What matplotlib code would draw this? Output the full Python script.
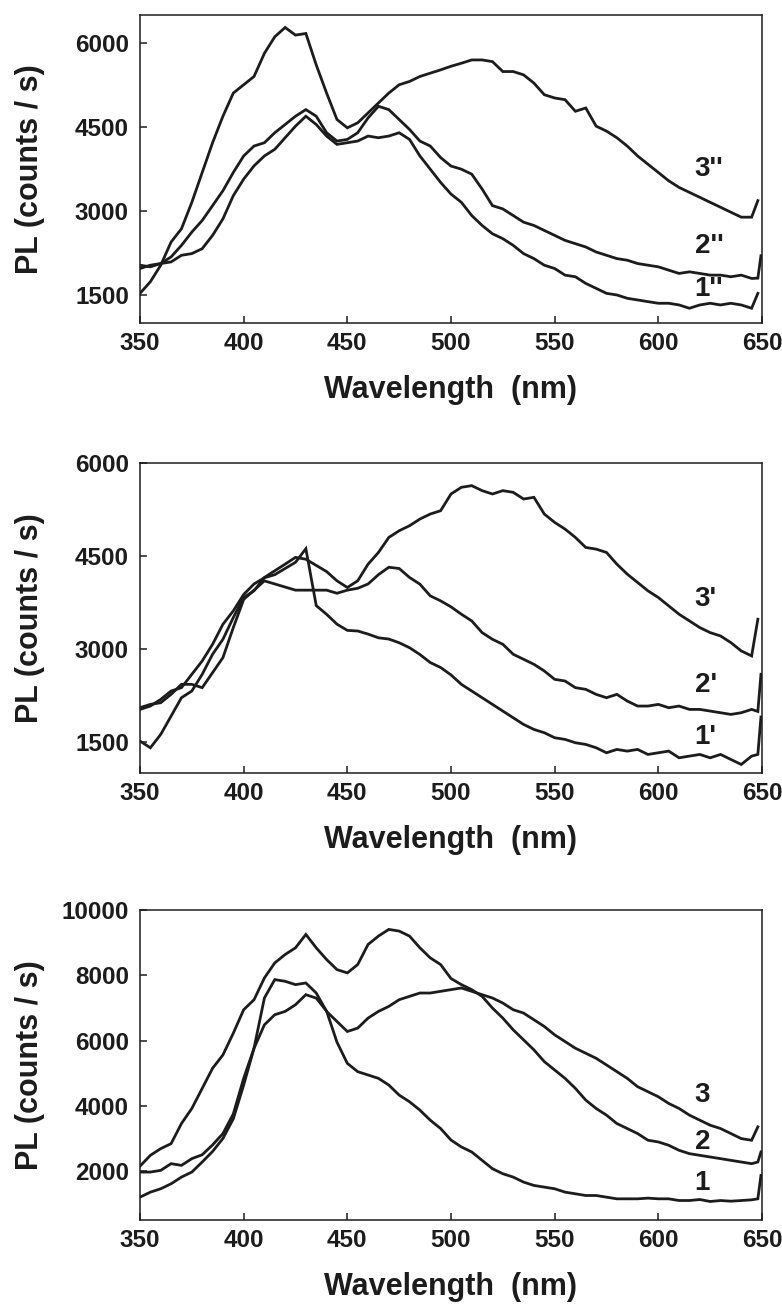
import matplotlib
matplotlib.use("Agg")
import matplotlib.pyplot as plt

plt.rcParams['font.family'] = ['Liberation Sans', 'DejaVu Sans']
plt.rcParams['font.weight'] = 'bold'

# ---------------- data ----------------
wavelength = list(range(350, 650, 5))   # 350 ... 645 nm sampling grid

# Panel 1 (top): curves 1'', 2'', 3''
p1_curve3 = [1529, 1736, 2031, 2445, 2681, 3153, 3685, 4216, 4689, 5102,
             5250, 5398, 5811, 6106, 6272, 6136, 6165, 5604, 5102, 4630,
             4482, 4571, 4748, 4925, 5102, 5250, 5309, 5398, 5457, 5516,
             5580,
             5634, 5693, 5693, 5663, 5486, 5486, 5427, 5280, 5073, 5014,
             4984, 4777, 4836, 4512, 4423, 4305, 4157, 3980, 3832, 3685,
             3537, 3419, 3330, 3242, 3153, 3065, 2976, 2888, 2888]
p1_curve3_tail = ([648], [3183])
p1_curve2 = [2031, 2002, 2061, 2179, 2385, 2622, 2829, 3094, 3360, 3685,
             3980, 4157, 4216, 4394, 4541, 4689, 4807, 4689, 4394, 4246,
             4275, 4394, 4659, 4866, 4807, 4630, 4453, 4246, 4157, 3951,
             3800,
             3744, 3655, 3390, 3094, 3035, 2917, 2799, 2740, 2651, 2563,
             2474, 2415, 2356, 2267, 2208, 2149, 2120, 2061, 2031, 2002,
             1943, 1884, 1913, 1884, 1854, 1854, 1825, 1854, 1795]
p1_curve2_tail = ([648, 649.5], [1800, 2200])
p1_curve1 = [1972, 2031, 2061, 2090, 2208, 2238, 2326, 2563, 2858, 3271,
             3567, 3803, 3980, 4098, 4305, 4512, 4689, 4541, 4335, 4187,
             4216, 4246, 4335, 4305, 4335, 4394, 4275, 3980, 3744, 3508,
             3300,
             3153, 2917, 2740, 2592, 2504, 2385, 2238, 2149, 2031, 1972,
             1854, 1825, 1706, 1618, 1529, 1500, 1441, 1411, 1381, 1352,
             1352, 1322, 1263, 1322, 1352, 1322, 1352, 1322, 1263]
p1_curve1_tail = ([648], [1529])

# Panel 2 (middle): curves 1', 2', 3'
p2_curve3 = [1511, 1403, 1619, 1915, 2212, 2320, 2590, 2914, 3156, 3507,
             3831, 3939, 4155, 4263, 4370, 4480, 4450, 4350, 4250, 4101,
             3993, 4101, 4370, 4559, 4802, 4910, 4991, 5099, 5180, 5234,
             5504,
             5612, 5639, 5558, 5504, 5558, 5531, 5423, 5450, 5180, 5045,
             4937, 4802, 4640, 4613, 4559, 4370, 4209, 4074, 3939, 3831,
             3696, 3561, 3453, 3345, 3264, 3210, 3102, 2968, 2887]
p2_curve3_tail = ([648], [3480])
p2_curve2 = [2050, 2104, 2131, 2266, 2428, 2428, 2374, 2617, 2860, 3345,
             3800, 3950, 4100, 4050, 4000, 3950, 3950, 3950, 3950, 3900,
             3950, 3980, 4050, 4200, 4320, 4300, 4155, 4047, 3858, 3777,
             3680,
             3561, 3453, 3264, 3156, 3075, 2914, 2833, 2752, 2644, 2509,
             2482, 2374, 2347, 2266, 2212, 2266, 2158, 2077, 2077, 2104,
             2050, 2077, 2023, 2023, 1996, 1969, 1942, 1969, 2023]
p2_curve2_tail = ([648, 649.5], [1990, 2590])
p2_curve1 = [2023, 2077, 2185, 2320, 2374, 2590, 2806, 3075, 3399, 3615,
             3880, 4050, 4150, 4200, 4300, 4400, 4620, 3700, 3560, 3400,
             3300, 3290, 3240, 3180, 3160, 3100, 3020, 2910, 2780, 2700,
             2580,
             2428, 2320, 2212, 2104, 1996, 1888, 1780, 1699, 1646, 1565,
             1538, 1484, 1457, 1403, 1322, 1376, 1349, 1376, 1295, 1322,
             1349, 1241, 1268, 1295, 1241, 1295, 1214, 1133, 1268]
p2_curve1_tail = ([648, 649.5], [1295, 1900])

# Panel 3 (bottom): curves 1, 2, 3
p3_curve3 = [1969, 1969, 2021, 2226, 2174, 2380, 2500, 2800, 3150, 3750,
             4841, 5764, 7303, 7867, 7815, 7713, 7764, 7456, 6892, 6584,
             6277, 6380, 6687, 6892, 7046, 7251, 7354, 7456, 7456, 7508,
             7559,
             7610, 7508, 7405, 7303, 7149, 6944, 6841, 6636, 6431, 6174,
             5969, 5764, 5610, 5456, 5251, 5046, 4841, 4585, 4431, 4277,
             4072, 3918, 3713, 3559, 3405, 3303, 3149, 2995, 2944]
p3_curve3_tail = ([648], [3354])
p3_curve2 = [2150, 2482, 2687, 2840, 3457, 3918, 4533, 5149, 5559, 6226,
             6944, 7251, 7918, 8379, 8636, 8841, 9251, 8841, 8482, 8174,
             8072, 8328, 8944, 9200, 9405, 9354, 9200, 8841, 8533, 8328,
             7900,
             7713, 7559, 7354, 6995, 6687, 6328, 6021, 5713, 5354, 5097,
             4841, 4533, 4174, 3918, 3713, 3456, 3303, 3149, 2944, 2892,
             2790, 2636, 2533, 2482, 2431, 2380, 2328, 2277, 2226]
p3_curve2_tail = ([648, 649.5], [2277, 2585])
p3_curve1 = [1200, 1354, 1457, 1610, 1815, 1969, 2277, 2600, 3000, 3600,
             4636, 5764, 6482, 6790, 6892, 7097, 7405, 7300, 6900, 5950,
             5300, 5046, 4944, 4841, 4636, 4328, 4123, 3867, 3559, 3303,
             2950,
             2739, 2585, 2328, 2072, 1918, 1815, 1662, 1559, 1508, 1457,
             1354, 1303, 1251, 1251, 1200, 1149, 1149, 1149, 1170, 1149,
             1149, 1097, 1097, 1128, 1067, 1097, 1077, 1097, 1118]
p3_curve1_tail = ([648, 649.5], [1149, 1867])

p1_labels = ["1''", "2''", "3''"]
p2_labels = ["1'", "2'", "3'"]
p3_labels = ["1", "2", "3"]
p1_label_y = [1610, 2373, 3740]
p2_label_y = [1581, 2422, 3800]
p3_label_y = [1625, 2890, 4343]
label_x = 617.5

p1_yticks = [1500, 3000, 4500, 6000]
p2_yticks = [1500, 3000, 4500, 6000]
p3_yticks = [2000, 4000, 6000, 8000, 10000]
xticks = [350, 400, 450, 500, 550, 600, 650]

p1_ylim = (1000, 6500)
p2_ylim = (1000, 6000)
p3_ylim = (500, 10000)

xlabel = "Wavelength  (nm)"
ylabel = "PL (counts / s)"

# ---------------- figure ----------------
W, H = 782, 1304
fig = plt.figure(figsize=(W / 100, H / 100), dpi=100)

left = 140 / W
width = 622 / W
panels = [
    (14.7, 323.0, [p1_curve1, p1_curve2, p1_curve3],
     [p1_curve1_tail, p1_curve2_tail, p1_curve3_tail],
     p1_labels, p1_label_y, p1_yticks, p1_ylim),
    (463.3, 772.7, [p2_curve1, p2_curve2, p2_curve3],
     [p2_curve1_tail, p2_curve2_tail, p2_curve3_tail],
     p2_labels, p2_label_y, p2_yticks, p2_ylim),
    (910.0, 1220.0, [p3_curve1, p3_curve2, p3_curve3],
     [p3_curve1_tail, p3_curve2_tail, p3_curve3_tail],
     p3_labels, p3_label_y, p3_yticks, p3_ylim),
]

line_color = '#1c1c1c'
for top, bottom, curves, tails, labels, label_y, yticks, ylim in panels:
    ax = fig.add_axes([left, 1 - bottom / H, width, (bottom - top) / H])
    for ys, (tx, ty) in zip(curves, tails):
        ax.plot(list(wavelength) + tx, ys + ty, color=line_color,
                lw=2.0, solid_joinstyle='miter')
    for lab, ly in zip(labels, label_y):
        ax.text(label_x, ly, lab, fontsize=20, fontweight='bold',
                ha='left', va='center', color='#1c1c1c')
    ax.set_xlim(350, 650)
    ax.set_ylim(*ylim)
    ax.set_xticks(xticks)
    ax.set_yticks(yticks)
    ax.tick_params(direction='in', length=5, width=1.1, top=False,
                   right=False, labelsize=17.5, colors='#1c1c1c')
    ax.tick_params(axis='x', pad=6.5)
    ax.tick_params(axis='y', pad=8)
    for sp in ax.spines.values():
        sp.set_linewidth(1.1)
        sp.set_color('#1c1c1c')
    ax.set_xlabel(xlabel, fontsize=22, fontweight='bold', color='#1c1c1c')
    ax.set_ylabel(ylabel, fontsize=22, fontweight='bold', color='#1c1c1c')
    ph = bottom - top
    ax.xaxis.set_label_coords(0.5, -52 / ph)
    ax.yaxis.set_label_coords(-0.152, 0.5)

fig.savefig("out.png", dpi=100)
